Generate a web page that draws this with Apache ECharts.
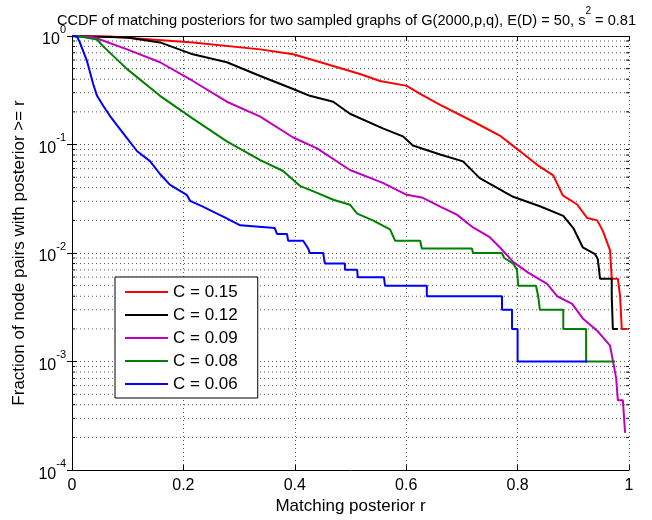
<!DOCTYPE html>
<html>
<head>
<meta charset="utf-8">
<script src="https://cdn.jsdelivr.net/npm/echarts@6/dist/echarts.min.js"></script>
<style>html,body{margin:0;padding:0;background:#fff}#c{width:652px;height:520px}</style>
</head>
<body>
<div id="c"></div>
<script>
// ---- data ----
var seriesNames = ['C = 0.15', 'C = 0.12', 'C = 0.09', 'C = 0.08', 'C = 0.06'];
var seriesColors = ['#ff0000', '#000000', '#bf00bf', '#008000', '#0000ff'];

var redR = [0, 0.068, 0.217, 0.338, 0.397, 0.44, 0.517, 0.553, 0.601, 0.625, 0.661, 0.72, 0.768, 0.804, 0.835, 0.864, 0.881, 0.907, 0.925, 0.943, 0.953, 0.966, 0.969, 0.98, 0.984, 0.987, 0.987, 0.996];
var redY = [1, 0.99, 0.873, 0.753, 0.678, 0.586, 0.446, 0.385, 0.347, 0.293, 0.232, 0.163, 0.121, 0.087, 0.065, 0.052, 0.034, 0.028, 0.021, 0.020, 0.016, 0.0106, 0.0058, 0.0058, 0.004, 0.004, 0.002, 0.002];

var blackR = [0, 0.099, 0.158, 0.217, 0.278, 0.338, 0.397, 0.427, 0.469, 0.499, 0.558, 0.594, 0.612, 0.661, 0.702, 0.732, 0.792, 0.84, 0.882, 0.9, 0.917, 0.939, 0.944, 0.948, 0.969, 0.969, 0.971, 0.98];
var blackY = [1, 0.969, 0.873, 0.678, 0.573, 0.428, 0.325, 0.281, 0.248, 0.192, 0.141, 0.119, 0.098, 0.081, 0.070, 0.049, 0.033, 0.027, 0.022, 0.017, 0.0113, 0.0098, 0.0088, 0.0058, 0.0058, 0.004, 0.002, 0.002];

var magentaR = [0, 0.038, 0.099, 0.158, 0.217, 0.278, 0.338, 0.397, 0.44, 0.499, 0.558, 0.601, 0.63, 0.661, 0.691, 0.72, 0.75, 0.768, 0.792, 0.819, 0.853, 0.871, 0.898, 0.917, 0.944, 0.966, 0.977, 0.98, 0.989, 0.993];
var magentaY = [1, 0.98, 0.753, 0.573, 0.385, 0.248, 0.181, 0.116, 0.0923, 0.0582, 0.0443, 0.0344, 0.0323, 0.0268, 0.0226, 0.0172, 0.014, 0.0113, 0.0083, 0.0066, 0.0052, 0.004, 0.0034, 0.0025, 0.0019, 0.0014, 0.0007, 0.00044, 0.00044, 0.00022];

var greenR = [0, 0.014, 0.045, 0.056, 0.099, 0.158, 0.217, 0.278, 0.338, 0.379, 0.409, 0.44, 0.469, 0.499, 0.512, 0.54, 0.571, 0.58, 0.625, 0.628, 0.718, 0.72, 0.772, 0.776, 0.792, 0.799, 0.801, 0.833, 0.837, 0.84, 0.882, 0.882, 0.923, 0.923, 0.975];
var greenY = [1, 0.99, 0.929, 0.802, 0.495, 0.281, 0.173, 0.107, 0.0718, 0.057, 0.0416, 0.0359, 0.031, 0.0279, 0.0231, 0.02, 0.0165, 0.013, 0.013, 0.011, 0.011, 0.01, 0.01, 0.009, 0.008, 0.007, 0.005, 0.005, 0.004, 0.003, 0.003, 0.002, 0.002, 0.001, 0.001];

var blueR = [0, 0.009, 0.014, 0.027, 0.038, 0.045, 0.056, 0.068, 0.081, 0.099, 0.117, 0.14, 0.158, 0.176, 0.206, 0.212, 0.235, 0.253, 0.275, 0.302, 0.364, 0.368, 0.386, 0.388, 0.415, 0.424, 0.427, 0.451, 0.454, 0.49, 0.49, 0.512, 0.513, 0.56, 0.562, 0.637, 0.637, 0.772, 0.772, 0.79, 0.79, 0.80, 0.80, 0.925];
var blueY = [1, 0.99, 0.873, 0.586, 0.361, 0.281, 0.228, 0.184, 0.15, 0.114, 0.0867, 0.0703, 0.0535, 0.0425, 0.0344, 0.0303, 0.0268, 0.0241, 0.0212, 0.018, 0.017, 0.015, 0.015, 0.013, 0.013, 0.011, 0.01, 0.01, 0.008, 0.008, 0.007, 0.007, 0.006, 0.006, 0.005, 0.005, 0.004, 0.004, 0.003, 0.003, 0.002, 0.002, 0.001, 0.001];

var xTicks = [0, 0.2, 0.4, 0.6, 0.8, 1];
var yDecades = [1e-4, 1e-3, 1e-2, 1e-1, 1];
var minorMultipliers = [2, 3, 4, 5, 6, 7, 8, 9];

// ---- build ----
var allR = [redR, blackR, magentaR, greenR, blueR];
var allY = [redY, blackY, magentaY, greenY, blueY];
function pairs(rs, ys) { return rs.map(function (r, i) { return [r, ys[i]]; }); }

var minorVals = [];
for (var d = 0; d < yDecades.length - 1; d++) {
  minorMultipliers.forEach(function (m) { minorVals.push([0, yDecades[d] * m]); });
}

var FONT = '"Liberation Sans", Arial, Helvetica, sans-serif';
var gridColor = '#555';

var series = seriesNames.map(function (n, i) {
  return {
    name: n, type: 'line', data: pairs(allR[i], allY[i]),
    showSymbol: false, symbol: 'none', animation: false,
    lineStyle: { color: seriesColors[i], width: 2 },
    itemStyle: { color: seriesColors[i] },
    z: 10 + i
  };
});

series.unshift({
  type: 'custom', silent: true, animation: false, z: 1,
  data: minorVals,
  encode: { x: 0, y: 1 },
  renderItem: function (params, api) {
    var v = api.value(1);
    var a = api.coord([0, v]);
    var b = api.coord([1, v]);
    return {
      type: 'group',
      children: [
        { type: 'line', shape: { x1: a[0], y1: a[1], x2: b[0], y2: b[1] },
          style: { stroke: gridColor, lineWidth: 1, lineDash: [1, 3] } },
        { type: 'line', shape: { x1: a[0], y1: a[1], x2: a[0] + 3, y2: a[1] },
          style: { stroke: '#000', lineWidth: 1 } },
        { type: 'line', shape: { x1: b[0] - 3, y1: b[1], x2: b[0], y2: b[1] },
          style: { stroke: '#000', lineWidth: 1 } }
      ]
    };
  }
});

var chart = echarts.init(document.getElementById('c'), null, { renderer: 'canvas' });
chart.setOption({
  backgroundColor: '#fff',
  animation: false,
  textStyle: { fontFamily: FONT },
  title: {
    text: '{a|CCDF of matching posteriors for two sampled graphs of G(2000,p,q), E(D) = 50, s}{s|2}{a| = 0.81}',
    left: 52, top: 1,
    textStyle: {
      fontWeight: 'normal',
      rich: {
        a: { fontSize: 14.6, fontWeight: 'normal', fontFamily: FONT, color: '#000', verticalAlign: 'bottom', lineHeight: 22 },
        s: { fontSize: 10, fontWeight: 'normal', fontFamily: FONT, color: '#000', verticalAlign: 'top', lineHeight: 22 }
      }
    }
  },
  legend: {
    orient: 'vertical', left: 115, top: 277,
    data: seriesNames,
    icon: 'rect', itemWidth: 43, itemHeight: 2, itemGap: 5,
    backgroundColor: '#fff', borderColor: '#000', borderWidth: 1,
    padding: [6, 20, 5, 10],
    textStyle: { fontSize: 17, fontFamily: FONT, color: '#000', lineHeight: 18 }
  },
  grid: { left: 72, right: 23, top: 36, bottom: 45, containLabel: false },
  xAxis: [{
    type: 'value', min: 0, max: 1, interval: 0.2,
    position: 'bottom',
    name: 'Matching posterior r', nameLocation: 'middle', nameGap: 25,
    nameTextStyle: { fontSize: 17, fontFamily: FONT, color: '#000' },
    axisLine: { show: true, lineStyle: { color: '#000', width: 1 } },
    axisTick: { show: true, inside: true, length: 5, lineStyle: { color: '#000' } },
    axisLabel: { fontSize: 16, fontFamily: FONT, color: '#000', margin: 7,
      formatter: function (v) { return String(Math.round(v * 10) / 10); } },
    splitLine: { show: true, lineStyle: { color: gridColor, type: [1, 3], width: 1 } }
  }, {
    type: 'value', min: 0, max: 1, interval: 0.2, position: 'top',
    axisLine: { show: true, lineStyle: { color: '#000', width: 1 } },
    axisTick: { show: true, inside: true, length: 5, lineStyle: { color: '#000' } },
    axisLabel: { show: false }, splitLine: { show: false }
  }],
  yAxis: [{
    type: 'log', logBase: 10, min: 1e-4, max: 1,
    position: 'left',
    name: 'Fraction of node pairs with posterior >= r', nameLocation: 'middle', nameGap: 44,
    nameRotate: 90,
    nameTextStyle: { fontSize: 17, fontFamily: FONT, color: '#000' },
    axisLine: { show: true, lineStyle: { color: '#000', width: 1 } },
    axisTick: { show: true, inside: true, length: 5, lineStyle: { color: '#000' } },
    axisLabel: {
      margin: 6, color: '#000',
      formatter: function (v) {
        var e = Math.round(Math.log(v) / Math.LN10);
        return '{b|10}{s|' + e + '}';
      },
      rich: {
        b: { fontSize: 16, fontFamily: FONT, color: '#000', verticalAlign: 'bottom', lineHeight: 24 },
        s: { fontSize: 11, fontFamily: FONT, color: '#000', verticalAlign: 'top', lineHeight: 24 }
      }
    },
    splitLine: { show: true, lineStyle: { color: gridColor, type: [1, 3], width: 1 } }
  }, {
    type: 'log', logBase: 10, min: 1e-4, max: 1, position: 'right',
    axisLine: { show: true, lineStyle: { color: '#000', width: 1 } },
    axisTick: { show: true, inside: true, length: 5, lineStyle: { color: '#000' } },
    axisLabel: { show: false }, splitLine: { show: false }
  }],
  series: series
});
</script>
</body>
</html>
